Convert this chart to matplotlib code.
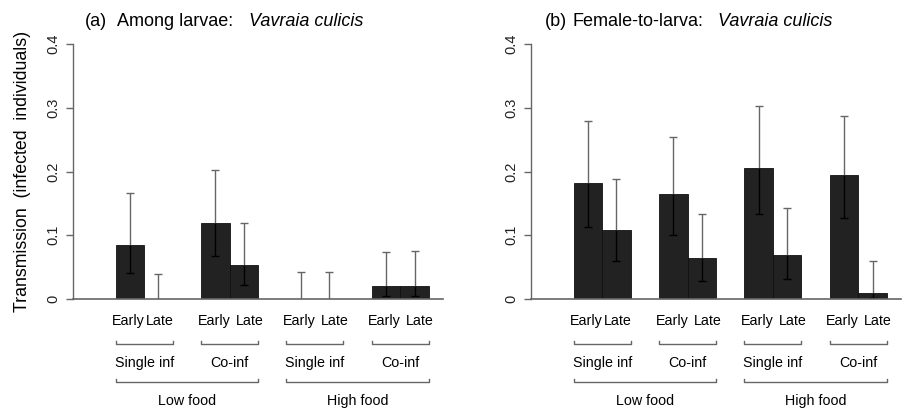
import numpy as np
import matplotlib as mpl
import matplotlib.pyplot as plt

mpl.rcParams.update({
    "font.family": "sans-serif",
    "font.sans-serif": ["Liberation Sans", "DejaVu Sans"],
})

# ----- data -----
timing = ["Early", "Late"]
infection = ["Single inf", "Co-inf"]
food = ["Low food", "High food"]

# order: LowSingleEarly, LowSingleLate, LowCoEarly, LowCoLate,
#        HighSingleEarly, HighSingleLate, HighCoEarly, HighCoLate
larvae_mean = [0.085, 0.0, 0.120, 0.053, 0.0, 0.0, 0.021, 0.021]
larvae_lo   = [0.041, 0.0, 0.068, 0.022, 0.0, 0.0, 0.004, 0.004]
larvae_hi   = [0.166, 0.040, 0.202, 0.120, 0.042, 0.042, 0.074, 0.075]

female_mean = [0.182, 0.109, 0.164, 0.064, 0.206, 0.069, 0.195, 0.010]
female_lo   = [0.113, 0.060, 0.101, 0.029, 0.134, 0.031, 0.127, 0.001]
female_hi   = [0.279, 0.189, 0.254, 0.134, 0.303, 0.143, 0.287, 0.059]

W, H = 902, 409
fig = plt.figure(figsize=(W / 100, H / 100), dpi=100)

# bar left edges: pairs of width 1 separated by one bar width
lefts = np.array([0, 1, 3, 4, 6, 7, 9, 10], dtype=float)
centres = lefts + 0.5

GREY = "#666666"
CAP = 0.14   # half cap width, in bar units


def panel(x0_px, mean, lo, hi):
    ax = fig.add_axes([x0_px / W, (H - 299) / H, 370 / W, 255 / H])
    mean, lo, hi = np.array(mean), np.array(lo), np.array(hi)
    ax.bar(lefts, mean, width=1.0, align="edge", color="#222222",
           edgecolor="#111111", linewidth=0.6)
    # upper part of the interval in grey, part inside the bar in black
    ax.vlines(centres, mean, hi, color=GREY, lw=1.0)
    ax.hlines(hi, centres - CAP, centres + CAP, color=GREY, lw=1.0)
    has_lo = mean > 0
    ax.vlines(centres[has_lo], lo[has_lo], mean[has_lo], color="black", lw=1.0)
    ax.hlines(lo[has_lo], centres[has_lo] - CAP, centres[has_lo] + CAP,
              color="black", lw=1.0)
    ax.set_xlim(-1.5, 11.5)
    ax.set_ylim(0, 0.4)
    ax.set_xticks([])
    ax.set_yticks([0, 0.1, 0.2, 0.3, 0.4])
    ax.set_yticklabels(["0", "0.1", "0.2", "0.3", "0.4"], rotation=90,
                       va="center", fontsize=10.5, color="#222222")
    ax.tick_params(axis="y", length=5, width=1.0, color=GREY, pad=4)
    for s in ["top", "right"]:
        ax.spines[s].set_visible(False)
    ax.spines["left"].set_color(GREY)
    ax.spines["bottom"].set_color(GREY)
    ax.spines["left"].set_linewidth(1.0)
    ax.spines["bottom"].set_linewidth(1.2)
    ax.spines["bottom"].set_zorder(3)

    tk = dict(fontsize=10.3, ha="center", va="center", clip_on=False)
    for g in range(4):
        e = centres[2 * g]
        l = centres[2 * g + 1]
        dx = 0.05 if g == 0 else 0.2
        ax.text(e - 0.05, -0.0345, timing[0], **tk)
        ax.text(l + dx, -0.0345, timing[1], **tk)
        # first-level bracket
        x1, x2 = lefts[2 * g], lefts[2 * g] + 2
        ax.plot([x1, x1, x2, x2], [-0.0655, -0.0706, -0.0706, -0.0655],
                color=GREY, lw=1.0, clip_on=False)
        ax.text((x1 + x2) / 2, -0.100, infection[g % 2], **tk)
    for f in range(2):
        x1, x2 = lefts[4 * f], lefts[4 * f] + 5
        ax.plot([x1, x1, x2, x2], [-0.125, -0.130, -0.130, -0.125],
                color=GREY, lw=1.0, clip_on=False)
        ax.text((x1 + x2) / 2, -0.160, food[f], **tk)
    return ax


panel(73, larvae_mean, larvae_lo, larvae_hi)
panel(531, female_mean, female_lo, female_hi)

ty = 1 - 22 / H
fs_t = 13
fig.text(85 / W, ty, "(a)", fontsize=fs_t, va="center")
fig.text(117 / W, ty, "Among larvae:", fontsize=fs_t, va="center")
fig.text(249 / W, ty, "Vavraia culicis", fontsize=fs_t, va="center",
         style="italic")
fig.text(545 / W, ty, "(b)", fontsize=fs_t, va="center")
fig.text(573 / W, ty, "Female-to-larva:", fontsize=fs_t, va="center")
fig.text(718 / W, ty, "Vavraia culicis", fontsize=fs_t, va="center",
         style="italic")

fig.text(23 / W, 1 - 171.5 / H, "Transmission  (infected  individuals)",
         rotation=90, fontsize=12.8, ha="center", va="center")

fig.savefig("out.png", dpi=100)
